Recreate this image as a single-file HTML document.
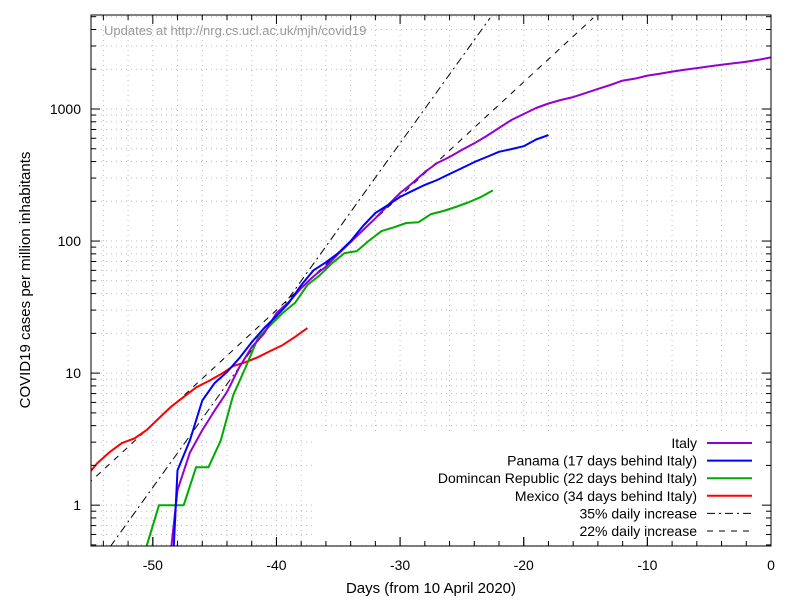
<!DOCTYPE html>
<html><head><meta charset="utf-8"><style>
body{margin:0;background:#fff}
svg{display:block;font-family:"Liberation Sans",sans-serif}
</style></head><body>
<svg id="chart" width="800" height="600" viewBox="0 0 800 600" xmlns="http://www.w3.org/2000/svg">
<defs><clipPath id="plotclip"><rect x="91" y="15" width="680" height="531"/></clipPath></defs>
<rect x="0" y="0" width="800" height="600" fill="#fff"/>
<g id="grid"></g>
<rect id="legendbg" x="312" y="434" width="458" height="111" fill="#fff"/>
<g id="series" clip-path="url(#plotclip)"></g>
<rect x="91" y="15" width="680" height="531" fill="none" stroke="#000" stroke-width="1"/>
<g id="ticks"></g>
<text x="104" y="35" font-size="13" fill="#999">Updates at http://nrg.cs.ucl.ac.uk/mjh/covid19</text>
<text x="431" y="593" font-size="15" text-anchor="middle">Days (from 10 April 2020)</text>
<text transform="translate(30,280) rotate(-90)" font-size="15" text-anchor="middle">COVID19 cases per million inhabitants</text>
<g id="legend"></g>
</svg>
<script>
const xTicks=[-50,-40,-30,-20,-10,0];
const yTicks=[1,10,100,1000];
const italyDays=[-48.5,-48,-47,-46,-45,-44,-43,-42,-41,-40,-39,-38,-37,-36,-35,-34,-33,-32,-31,-30,-29,-28,-27,-26,-25,-24,-23,-22,-21,-20,-19,-18,-17,-16,-15,-14,-13,-12,-11,-10,-9,-8,-7,-6,-5,-4,-3,-2,-1,0];
const italyVals=[0.49,1.3,2.5,3.7,5.2,7.2,11.1,15.7,20,28.5,34.5,44,54,64,80,98,121,149,186,231,275,333,390,433,490,550,624,718,826,917,1018,1100,1170,1230,1320,1420,1520,1640,1700,1790,1850,1920,1980,2040,2100,2160,2220,2280,2360,2460];
const panamaDays=[-48.3,-48,-47,-46,-45,-44,-43,-42,-41,-40,-39,-38,-37,-36,-35,-34,-33,-32,-31,-30,-29,-28,-27,-26,-25,-24,-23,-22,-21,-20,-19,-18];
const panamaVals=[0.49,1.84,3.1,6.2,8.4,10.2,13.0,17.1,21.9,27,34,46.4,60,69,81,100,130,163,187,216,240,266,290,322,357,396,433,474,497,523,587,634];
const domDays=[-50.5,-49.5,-48.5,-47.5,-46.5,-45.5,-44.5,-43.5,-42.5,-41.5,-40.5,-39.5,-38.5,-37.5,-36.5,-35.5,-34.5,-33.5,-32.5,-31.5,-30.5,-29.5,-28.5,-27.5,-26.5,-25.5,-24.5,-23.5,-22.5];
const domVals=[0.49,1,1,1,1.94,1.94,3.1,6.8,11,18.4,23,28.5,34,46.5,55,68,81,84,101,119,127,137,139,160,169,181,196,215,242];
const mexDays=[-55.5,-54.5,-53.5,-52.5,-51.5,-50.5,-49.5,-48.5,-47.5,-46.5,-45.5,-44.5,-43.5,-42.5,-41.5,-40.5,-39.5,-38.5,-37.5];
const mexVals=[1.6,2.08,2.52,2.95,3.2,3.7,4.56,5.6,6.6,7.8,8.7,9.8,11.3,12.1,13.2,14.7,16.3,18.8,21.9];
const growthRates=[0.35,0.22];
const growthAnchorVals=[27.4,30];
const growthAnchorDay=-40;
const growthMaxVal=4900;

const X0=91,X1=771,Y0=546,Y1=15;
const xMin=-55,xMax=0,yMinL=Math.log10(0.4906),yMaxL=Math.log10(5150);
const sx=d=>X0+(d-xMin)/(xMax-xMin)*(X1-X0);
const sy=v=>Y0-(Math.log10(v)-yMinL)/(yMaxL-yMinL)*(Y0-Y1);
const NS="http://www.w3.org/2000/svg";
function mk(tag,attrs,parent){const e=document.createElementNS(NS,tag);for(const k in attrs)e.setAttribute(k,attrs[k]);parent.appendChild(e);return e;}
const grid=document.getElementById('grid'),ticks=document.getElementById('ticks'),series=document.getElementById('series'),legend=document.getElementById('legend');
for(let d=-54;d<0;d+=2){const x=sx(d);
 const g=mk('line',{x1:x,x2:x,y1:Y1,y2:Y0,stroke:'#bbb','stroke-width':1,'stroke-dasharray':'1,4'},grid);
 
 const isMaj=xTicks.includes(d);
 const t=mk('line',{x1:x,x2:x,y1:Y0,y2:Y0-(isMaj?9:5),stroke:'#000'},ticks);
 
 const t2=mk('line',{x1:x,x2:x,y1:Y1,y2:Y1+(isMaj?9:5),stroke:'#000'},ticks);
 
}
xTicks.forEach(d=>{const x=sx(d);
 const t=mk('line',{x1:x,x2:x,y1:Y0,y2:Y0-9,stroke:'#000'},ticks);
 
 const l=mk('text',{x:x,y:570,'font-size':14,'text-anchor':'middle'},ticks);l.textContent=d;
 });
for(let e=-1;e<=3;e++){for(let m=1;m<10;m++){const v=m*Math.pow(10,e);const y=sy(v);if(y<Y1||y>Y0)continue;
 const isMaj=m===1;
 const g=mk('line',{x1:X0,x2:X1,y1:y,y2:y,stroke:'#bbb','stroke-width':1,'stroke-dasharray':'1,4'},grid);
 
 const t=mk('line',{x1:X0,x2:X0+(isMaj?9:5),y1:y,y2:y,stroke:'#000'},ticks);
 
 const t2=mk('line',{x1:X1,x2:X1-(isMaj?9:5),y1:y,y2:y,stroke:'#000'},ticks);
 }}
yTicks.forEach(v=>{const l=mk('text',{x:81,y:sy(v)+5,'font-size':14,'text-anchor':'end'},ticks);l.textContent=v;
 });
const gStyles=['8,4,2,4','6,6'];
growthRates.forEach((r,i)=>{const a=growthAnchorVals[i];const f=d=>a*Math.pow(1+r,d-growthAnchorDay);
 const dEnd=Math.min(0,growthAnchorDay+Math.log(growthMaxVal/a)/Math.log(1+r));
 const l=mk('line',{x1:sx(-56),y1:sy(f(-56)),x2:sx(dEnd),y2:sy(f(dEnd)),stroke:'#000','stroke-width':1,'stroke-dasharray':gStyles[i]},series);
 });
function poly(days,vals,color,name){const pts=days.map((d,i)=>sx(d).toFixed(1)+','+sy(vals[i]).toFixed(1)).join(' ');
 const p=mk('polyline',{points:pts,fill:'none',stroke:color,'stroke-width':2,'stroke-linejoin':'round'},series);
 }
poly(mexDays,mexVals,'#f00','mexico-line');
poly(domDays,domVals,'#0a0','dominican-line');
poly(italyDays,italyVals,'#9400d3','italy-line');
poly(panamaDays,panamaVals,'#00f','panama-line');
const entries=[['Italy','#9400d3',null],['Panama (17 days behind Italy)','#00f',null],['Domincan Republic (22 days behind Italy)','#0a0',null],['Mexico (34 days behind Italy)','#f00',null],['35% daily increase','#000','8,4,2,4'],['22% daily increase','#000','6,6']];
entries.forEach((e,i)=>{const y=443+i*17.6;
 const t=mk('text',{x:697,y:y+5,'font-size':14,'text-anchor':'end'},legend);t.textContent=e[0];
 
 const a={x1:707,x2:752,y1:y,y2:y,stroke:e[1],'stroke-width':e[2]?1:2};if(e[2])a['stroke-dasharray']=e[2];
 const l=mk('line',a,legend);
 });
</script>
</body></html>
